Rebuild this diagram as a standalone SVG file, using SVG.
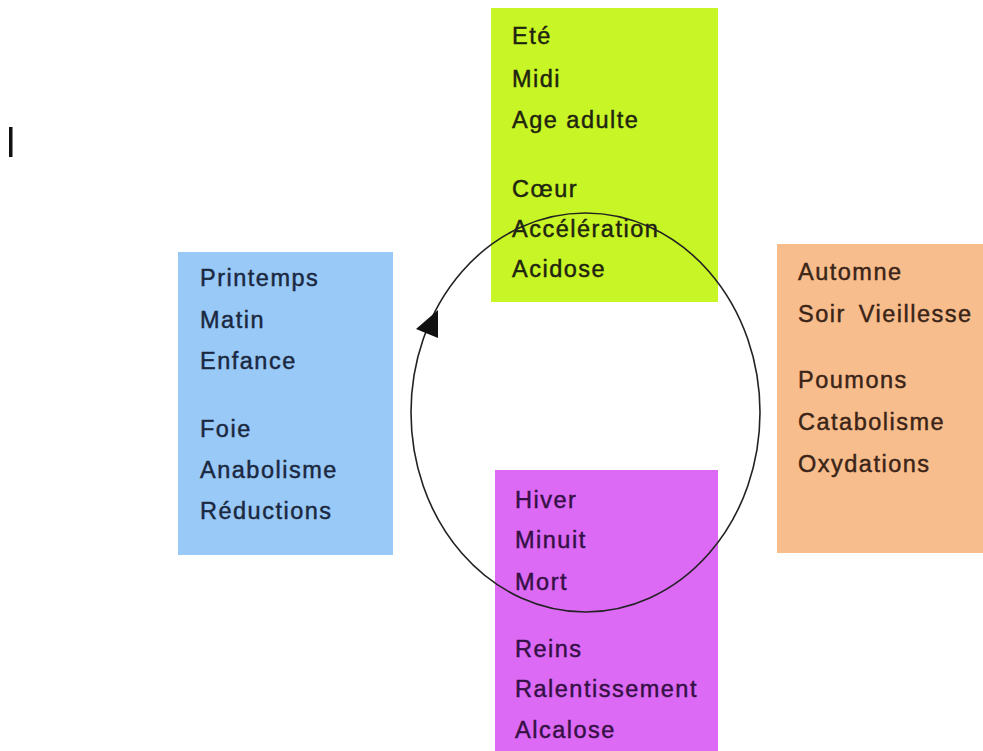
<svg xmlns="http://www.w3.org/2000/svg" width="983" height="751" viewBox="0 0 983 751">
<style>
.t{font-family:"Liberation Sans",Arial,sans-serif;font-size:23.5px;letter-spacing:1.5px;stroke-width:0.45px}
.g text{fill:#1e2410;stroke:#1e2410}.b text{fill:#1a2840;stroke:#1a2840}.o text{fill:#3a2418;stroke:#3a2418}.p text{fill:#351045;stroke:#351045}
.loop{fill:none;stroke:#222;stroke-width:1.6}
</style>
<rect width="983" height="751" fill="#fff"/>
<rect x="9" y="127" width="3.5" height="30" fill="#111"/>
<g id="ete" class="g">
<rect x="491" y="8" width="227" height="294" fill="#c8f525"/>
<text class="t" x="512" y="44">Eté</text>
<text class="t" x="512" y="87">Midi</text>
<text class="t" x="512" y="128">Age adulte</text>
<text class="t" x="512" y="197">Cœur</text>
<text class="t" x="512" y="237">Accélération</text>
<text class="t" x="512" y="277">Acidose</text>
</g>
<g id="printemps" class="b">
<rect x="178" y="252" width="215" height="303" fill="#99c9f7"/>
<text class="t" x="200" y="286">Printemps</text>
<text class="t" x="200" y="328">Matin</text>
<text class="t" x="200" y="369">Enfance</text>
<text class="t" x="200" y="437">Foie</text>
<text class="t" x="200" y="478">Anabolisme</text>
<text class="t" x="200" y="519">Réductions</text>
</g>
<g id="automne" class="o">
<rect x="777" y="244" width="206" height="309" fill="#f8bd8c"/>
<text class="t" x="798" y="280">Automne</text>
<text class="t" x="798" y="322" word-spacing="5">Soir Vieillesse</text>
<text class="t" x="798" y="388">Poumons</text>
<text class="t" x="798" y="430">Catabolisme</text>
<text class="t" x="798" y="472">Oxydations</text>
</g>
<g id="hiver" class="p">
<rect x="495" y="470" width="223" height="281" fill="#dd6af5"/>
<text class="t" x="515" y="508">Hiver</text>
<text class="t" x="515" y="548">Minuit</text>
<text class="t" x="515" y="590">Mort</text>
<text class="t" x="515" y="657">Reins</text>
<text class="t" x="515" y="697">Ralentissement</text>
<text class="t" x="515" y="738">Alcalose</text>
</g>
<g id="connectors">
<ellipse class="loop" cx="585.5" cy="412.5" rx="174.5" ry="199.5"/>
<polygon points="438,310 416,329 438,338" fill="#111"/>
</g>
</svg>
